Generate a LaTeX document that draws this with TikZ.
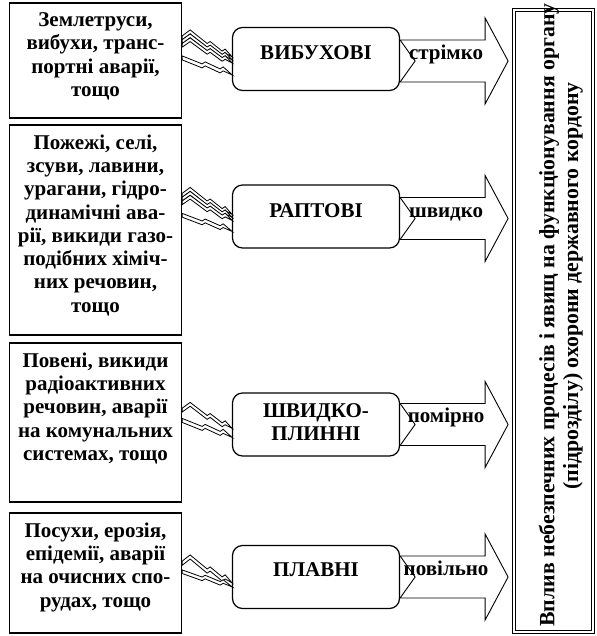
\documentclass[tikz,border=0pt]{standalone}
\usepackage{fontspec}
\setmainfont{Liberation Serif}
\usetikzlibrary{calc}
\begin{document}
\begin{tikzpicture}[x=1pt,y=-1pt,
  font=\bfseries\fontsize{21}{23.3}\selectfont,
  leftbox/.style={draw, line width=1.3pt, minimum width=172pt, inner sep=0pt},
  lefttxt/.style={align=center, inner sep=0pt, anchor=north},
  midbox/.style={draw, line width=1.2pt, rounded corners=10pt, minimum width=167pt, minimum height=63pt, inner sep=0pt},
  midtxt/.style={align=center, inner sep=0pt},
  arrowline/.style={draw, line width=0.9pt, fill=white},
  boltline/.style={draw, line width=0.8pt, fill=white, line join=miter},
  bigbox/.style={draw, line width=1.1pt, double, double distance=2.2pt, minimum width=78.5pt, minimum height=621.5pt, inner sep=0pt},
  arrtxt/.style={anchor=base, inner sep=0pt},
  rottxt/.style={rotate=90, inner sep=0pt, font=\bfseries\fontsize{21.8}{24}\selectfont},
  pics/bolt/.style={code={
    \draw[boltline, yscale=#1/27]
      (0,6) -- (8,0) -- (25,13.6) -- (28,11.6) -- (40,21.2) -- (43,19.2)
      -- (50,27) -- (43,23.2) -- (40,25.2) -- (28,15.6) -- (25,17.6)
      -- (8,4) -- (0,10) -- cycle;}},
  pics/flatbolt/.style={code={
    \draw[boltline, yscale=#1/19]
      (0,0) -- (20,8) -- (23,6) -- (38,13) -- (41,11) -- (50,19)
      -- (41,15) -- (38,17) -- (23,10) -- (20,12) -- (0,4) -- cycle;}},
  pics/notcharrow/.style={code={
    \draw[arrowline] (0,-21) -- (85,-21) -- (85,-43) -- (108,0) -- (85,43)
      -- (85,21) -- (0,21) -- (15,0) -- cycle;}}
]
\useasboundingbox (0,0) rectangle (596,636);

% left boxes
\node[leftbox, minimum height=115pt] (s1) at (95.5,60.5) {};
\node[leftbox, minimum height=210pt] (s2) at (95.5,230) {};
\node[leftbox, minimum height=159pt] (s3) at (95.5,422.5) {};
\node[leftbox, minimum height=120pt] (s4) at (95.5,573) {};

\node[lefttxt] (t1) at ($(s1.north)+(0,10)$) {Землетруси,\\вибухи, транс-\\портні аварії,\\тощо};
\node[lefttxt] (t2) at ($(s2.north)+(0,10)$) {Пожежі, селі,\\зсуви, лавини,\\урагани, гідро-\\динамічні ава-\\рії, викиди газо-\\подібних хіміч-\\них речовин,\\тощо};
\node[lefttxt] (t3) at ($(s3.north)+(0,10)$) {Повені, викиди\\радіоактивних\\речовин, аварії\\на комунальних\\системах, тощо};
\node[lefttxt] (t4) at ($(s4.north)+(0,10)$) {Посухи, ерозія,\\епідемії, аварії\\на очисних спо-\\рудах, тощо};

% middle boxes
\node[midbox] (m1) at (316,59) {};
\node[midbox] (m2) at (316,216.5) {};
\node[midbox] (m3) at (316,424.5) {};
\node[midbox] (m4) at (316,577) {};

\node[midtxt] (n1) at ($(m1.center)+(0,-6)$) {ВИБУХОВІ};
\node[midtxt] (n2) at ($(m2.center)+(0,-6)$) {РАПТОВІ};
\node[midtxt] (n3) at ($(m3.center)+(0,-2.5)$) {ШВИДКО-\\ПЛИННІ};
\node[midtxt] (n4) at ($(m4.center)+(0,-7)$) {ПЛАВНІ};

% lightning bolts
\pic at ($(s1.east |- m1.north)+(0,3)$) {bolt=27};
\pic at ($(s1.east |- m1.north)+(0,7)$) {bolt=26};
\pic at ($(s1.east |- m1.north)+(0,11)$) {bolt=25};
\pic at ($(s1.east |- m1.north)+(0,29)$) {flatbolt=19};

\pic at ($(s2.east |- m2.north)+(0,3)$) {bolt=27};
\pic at ($(s2.east |- m2.north)+(0,7)$) {bolt=26};
\pic at ($(s2.east |- m2.north)+(0,11)$) {bolt=25};
\pic at ($(s2.east |- m2.north)+(0,29)$) {flatbolt=18};

\pic at ($(s3.east |- m3.north)+(0,10)$) {bolt=26};
\pic at ($(s3.east |- m3.north)+(0,26)$) {flatbolt=19};

\pic at ($(s4.east |- m4.north)+(0,10)$) {bolt=28};
\pic at ($(s4.east |- m4.north)+(0,25)$) {flatbolt=17};

% big box
\node[bigbox] (R) at (553.5,321) {};
\node[rottxt] (r1) at (549,315) {Вплив небезпечних процесів і явищ на функціонування органу};
\node[rottxt] (r2) at (573,286) {(підрозділу) охорони державного кордону};

% arrows
\pic at ($(m1.east)+(0,2)$) {notcharrow};
\pic at ($(m2.east)+(0,2)$) {notcharrow};
\pic at ($(m3.east)+(0,0)$) {notcharrow};
\pic at ($(m4.east)+(0,0)$) {notcharrow};

\node[arrtxt] (a1) at ($(m1.east)+(46,1)$) {стрімко};
\node[arrtxt] (a2) at ($(m2.east)+(46,1)$) {швидко};
\node[arrtxt] (a3) at ($(m3.east)+(46,-2)$) {помірно};
\node[arrtxt] (a4) at ($(m4.east)+(46,-2)$) {повільно};
\end{tikzpicture}
\end{document}
